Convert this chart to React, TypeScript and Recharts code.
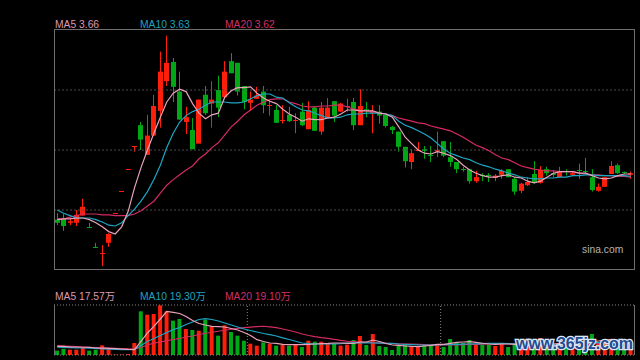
import { ComposedChart, Bar, Line, XAxis, YAxis, ReferenceLine, Cell } from "recharts";

// daily candles, price in yuan
const opens = [
  3.09, 3.10, 3.05, 3.05, 3.14, 3.00, 2.75, 2.66, 2.80, 3.17,
  3.45, 3.72, 4.01, 4.27, 3.90, 4.14, 4.45, 4.82, 5.06, 4.69,
  4.31, 4.21, 4.04, 4.65, 4.54, 4.71, 4.62, 5.07, 5.05, 4.76,
  4.55, 4.60, 4.69, 4.51, 4.46, 4.33, 4.40, 4.33, 4.44, 4.22,
  4.49, 4.19, 4.36, 4.57, 4.44, 4.50, 4.56, 4.27, 4.47, 4.43,
  4.44, 4.40, 4.25, 4.19, 4.00, 3.81, 3.95, 3.97, 3.90, 3.94,
  4.07, 3.87, 3.81, 3.72, 3.72, 3.57, 3.65, 3.65, 3.61, 3.65,
  3.72, 3.60, 3.45, 3.52, 3.66, 3.55, 3.72, 3.67, 3.62, 3.70,
  3.65, 3.71, 3.70, 3.62, 3.45, 3.50, 3.66, 3.77, 3.68, 3.65,
];
const highs = [
  3.17, 3.16, 3.11, 3.21, 3.35, 3.05, 2.80, 2.77, 2.92, 3.17,
  3.45, 3.72, 4.01, 4.31, 4.40, 4.65, 5.19, 5.39, 5.11, 4.94,
  4.50, 4.36, 4.59, 4.76, 4.82, 4.89, 5.07, 5.17, 5.05, 4.76,
  4.69, 4.75, 4.76, 4.59, 4.52, 4.52, 4.50, 4.42, 4.55, 4.57,
  4.51, 4.56, 4.61, 4.57, 4.55, 4.60, 4.61, 4.72, 4.56, 4.52,
  4.52, 4.40, 4.26, 4.19, 4.00, 3.97, 4.06, 4.01, 4.01, 4.19,
  4.07, 4.06, 3.81, 3.75, 3.72, 3.70, 3.67, 3.67, 3.66, 3.72,
  3.72, 3.62, 3.55, 3.62, 3.82, 3.76, 3.75, 3.71, 3.75, 3.72,
  3.69, 3.79, 3.86, 3.72, 3.54, 3.62, 3.82, 3.79, 3.69, 3.69,
];
const lows = [
  3.02, 2.95, 3.02, 3.01, 3.14, 2.99, 2.74, 2.51, 2.75, 3.17,
  3.45, 3.72, 3.94, 3.96, 3.90, 4.14, 4.24, 4.76, 4.56, 4.34,
  4.16, 3.97, 4.04, 4.40, 4.24, 4.37, 4.62, 4.92, 4.64, 4.47,
  4.45, 4.60, 4.42, 4.39, 4.30, 4.29, 4.31, 4.17, 4.26, 4.22,
  4.20, 4.15, 4.36, 4.31, 4.44, 4.44, 4.21, 4.27, 4.37, 4.17,
  4.29, 4.24, 4.16, 3.94, 3.74, 3.72, 3.95, 3.85, 3.81, 3.87,
  3.87, 3.75, 3.67, 3.69, 3.54, 3.55, 3.57, 3.56, 3.57, 3.60,
  3.62, 3.40, 3.42, 3.51, 3.54, 3.54, 3.64, 3.62, 3.62, 3.64,
  3.64, 3.60, 3.65, 3.44, 3.44, 3.50, 3.66, 3.66, 3.66, 3.60,
];
const closes = [
  3.05, 3.01, 3.07, 3.15, 3.25, 2.99, 2.74, 2.67, 2.91, 3.17,
  3.45, 3.72, 4.01, 4.09, 4.14, 4.51, 4.94, 5.05, 4.75, 4.34,
  4.37, 3.97, 4.59, 4.42, 4.59, 4.49, 4.94, 4.92, 4.69, 4.56,
  4.59, 4.64, 4.52, 4.52, 4.30, 4.34, 4.32, 4.34, 4.27, 4.46,
  4.20, 4.49, 4.49, 4.39, 4.54, 4.51, 4.27, 4.51, 4.45, 4.44,
  4.39, 4.26, 4.21, 4.00, 3.82, 3.92, 3.96, 3.95, 3.89, 3.96,
  3.89, 3.81, 3.72, 3.71, 3.57, 3.62, 3.64, 3.64, 3.64, 3.70,
  3.62, 3.44, 3.54, 3.56, 3.55, 3.71, 3.67, 3.65, 3.69, 3.69,
  3.67, 3.70, 3.69, 3.46, 3.50, 3.62, 3.76, 3.67, 3.67, 3.67,
];

const ma5 = [
  3.09, 3.10, 3.10, 3.11, 3.11, 3.09, 3.05, 3.00, 2.94, 2.91,
  3.00, 3.19, 3.49, 3.74, 3.96, 4.17, 4.37, 4.56, 4.67, 4.72,
  4.69, 4.54, 4.42, 4.35, 4.40, 4.42, 4.62, 4.70, 4.74, 4.74,
  4.75, 4.67, 4.61, 4.57, 4.54, 4.47, 4.41, 4.37, 4.32, 4.35,
  4.34, 4.34, 4.36, 4.37, 4.41, 4.46, 4.46, 4.45, 4.45, 4.45,
  4.42, 4.41, 4.37, 4.25, 4.12, 4.04, 3.96, 3.92, 3.91, 3.94,
  3.92, 3.89, 3.84, 3.77, 3.71, 3.67, 3.64, 3.62, 3.62, 3.64,
  3.65, 3.62, 3.61, 3.57, 3.55, 3.57, 3.62, 3.67, 3.69, 3.69,
  3.69, 3.67, 3.67, 3.64, 3.61, 3.60, 3.61, 3.64, 3.66, 3.66,
];
const ma10 = [
  3.21, 3.17, 3.14, 3.11, 3.11, 3.11, 3.09, 3.06, 3.02, 3.01,
  3.05, 3.14, 3.22, 3.32, 3.44, 3.59, 3.77, 3.99, 4.17, 4.31,
  4.39, 4.44, 4.47, 4.52, 4.56, 4.56, 4.56, 4.55, 4.55, 4.56,
  4.60, 4.64, 4.66, 4.66, 4.62, 4.61, 4.55, 4.50, 4.46, 4.45,
  4.42, 4.39, 4.36, 4.36, 4.37, 4.40, 4.41, 4.41, 4.42, 4.42,
  4.42, 4.41, 4.39, 4.32, 4.27, 4.24, 4.20, 4.16, 4.11, 4.04,
  3.97, 3.92, 3.89, 3.86, 3.84, 3.80, 3.77, 3.75, 3.72, 3.70,
  3.67, 3.65, 3.62, 3.61, 3.60, 3.60, 3.61, 3.61, 3.62, 3.62,
  3.64, 3.64, 3.65, 3.65, 3.64, 3.64, 3.64, 3.64, 3.64, 3.63,
];
const ma20 = [
  3.10, 3.10, 3.12, 3.14, 3.16, 3.16, 3.16, 3.15, 3.15, 3.14,
  3.14, 3.14, 3.16, 3.20, 3.26, 3.32, 3.42, 3.52, 3.59, 3.65,
  3.71, 3.76, 3.85, 3.91, 3.99, 4.05, 4.15, 4.25, 4.32, 4.40,
  4.46, 4.52, 4.56, 4.59, 4.60, 4.60, 4.56, 4.54, 4.51, 4.50,
  4.50, 4.51, 4.51, 4.52, 4.52, 4.50, 4.47, 4.46, 4.45, 4.44,
  4.42, 4.41, 4.39, 4.36, 4.34, 4.32, 4.30, 4.29, 4.26, 4.24,
  4.22, 4.20, 4.16, 4.12, 4.07, 4.02, 3.99, 3.95, 3.90, 3.86,
  3.84, 3.80, 3.76, 3.74, 3.72, 3.71, 3.70, 3.70, 3.69, 3.69,
  3.69, 3.67, 3.66, 3.65, 3.65, 3.64, 3.64, 3.63, 3.63, 3.62,
];

// volume in 万 (10k shares)
const vols = [
  6.5, 9.5, 8.0, 8.0, 11.5, 6.5, 8.0, 14.5, 9.5, 0.8,
  0.8, 1.4, 18.0, 65.5, 60.5, 61.5, 74.5, 65.5, 51.5, 54.0,
  39.0, 37.5, 36.5, 53.0, 43.0, 29.0, 44.5, 34.5, 29.0, 21.5,
  17.0, 14.0, 19.0, 17.0, 14.0, 15.5, 14.0, 15.5, 12.0, 21.5,
  20.0, 20.0, 18.0, 16.5, 14.0, 15.5, 22.5, 28.5, 15.0, 31.5,
  13.5, 12.0, 7.5, 13.5, 16.5, 12.0, 12.0, 15.0, 15.0, 16.5,
  12.0, 24.0, 19.5, 18.0, 22.5, 15.0, 15.0, 15.0, 13.5, 16.5,
  12.0, 15.0, 13.5, 12.0, 18.0, 25.5, 15.0, 12.0, 16.5, 12.0,
  13.5, 18.0, 24.0, 31.5, 18.0, 19.5, 24.0, 18.0, 12.0, 14.5,
];
const volMa5 = [
  13.0, 12.8, 12.0, 12.0, 11.6, 11.3, 10.5, 10.2, 9.8, 9.5,
  9.0, 8.3, 8.0, 20.6, 33.0, 43.0, 54.0, 65.5, 64.0, 62.3,
  57.8, 51.8, 47.3, 45.0, 43.0, 42.5, 42.0, 39.8, 37.5, 33.8,
  29.3, 23.0, 20.3, 18.0, 17.3, 16.0, 15.5, 15.5, 15.5, 15.8,
  16.5, 17.0, 17.3, 18.0, 18.0, 17.3, 17.3, 19.5, 19.5, 22.5,
  20.3, 17.3, 15.0, 14.3, 13.5, 12.8, 12.5, 13.5, 14.3, 15.8,
  16.0, 17.3, 18.8, 19.5, 20.0, 18.8, 17.6, 16.5, 15.8, 16.5,
  16.5, 16.0, 14.1, 13.8, 14.1, 16.8, 16.8, 16.5, 17.4, 16.2,
  13.8, 14.4, 16.8, 19.8, 21.0, 22.2, 23.4, 22.2, 18.3, 17.57,
];
const volMa10 = [
  11.6, 11.3, 11.1, 10.8, 10.5, 10.2, 9.8, 9.3, 8.7, 8.3,
  8.0, 8.0, 8.3, 14.3, 20.3, 24.8, 29.3, 33.8, 38.0, 41.3,
  45.8, 49.5, 53.3, 54.5, 53.3, 51.0, 48.0, 45.0, 42.0, 39.0,
  36.8, 34.5, 32.3, 30.5, 28.5, 25.8, 23.3, 20.6, 18.0, 17.0,
  16.5, 16.5, 16.5, 16.8, 17.0, 18.0, 18.3, 18.3, 18.3, 18.0,
  17.7, 17.6, 17.3, 16.5, 16.0, 15.5, 15.0, 15.0, 15.0, 15.3,
  15.6, 15.9, 16.0, 16.2, 16.5, 16.8, 17.1, 17.3, 17.4, 17.6,
  17.2, 16.6, 16.0, 15.4, 15.0, 15.6, 15.6, 15.3, 15.6, 15.2,
  15.3, 15.6, 16.7, 18.6, 18.6, 18.0, 18.9, 19.5, 19.1, 19.30,
];
const volMa20 = [
  14.0, 13.5, 12.9, 12.5, 12.0, 11.6, 11.1, 10.7, 10.2, 9.8,
  9.5, 9.2, 9.0, 11.3, 15.0, 17.7, 19.5, 21.5, 23.3, 24.8,
  27.0, 28.5, 30.8, 32.6, 34.1, 35.6, 37.1, 38.6, 39.8, 41.0,
  41.7, 42.6, 43.1, 42.3, 41.0, 39.0, 36.8, 34.5, 31.5, 29.3,
  27.5, 26.0, 24.8, 23.3, 21.8, 20.6, 20.0, 19.5, 19.1, 18.5,
  18.0, 17.6, 17.1, 16.8, 16.5, 16.2, 15.9, 15.6, 15.3, 15.0,
  15.0, 15.2, 15.3, 15.5, 15.8, 16.0, 16.4, 16.5, 16.7, 16.8,
  17.0, 17.1, 17.0, 16.8, 16.5, 16.3, 16.0, 15.8, 15.8, 15.6,
  15.5, 15.6, 16.0, 16.8, 17.2, 17.5, 18.0, 18.5, 18.8, 19.10,
];

// first trading day of a new month (1-based day index)
const monthStarts = [31, 61];
const priceGrid = [3.21, 3.96, 4.71];

const RED = "#ff1e0a";
const GREEN = "#00a815";
const C5 = "#e8a2b9";
const C10 = "#1ea6c4";
const C20 = "#d42b62";
const FONT = "'Liberation Sans', Arial, 'Noto Sans CJK SC', sans-serif";

const rows = opens.map((o, i) => ({
  day: i + 1,
  open: o,
  high: highs[i],
  low: lows[i],
  close: closes[i],
  ma5: ma5[i],
  ma10: ma10[i],
  ma20: ma20[i],
  vol: vols[i],
  vma5: volMa5[i],
  vma10: volMa10[i],
  vma20: volMa20[i],
}));

const isUp = (d: { open: number; close: number }) => d.close >= d.open;

function Candle(props: any) {
  const { x, y, width, height, payload } = props;
  if (payload == null || x == null) return null;
  const color = isUp(payload) ? RED : GREEN;
  const top = Math.min(y, y + (height || 0));
  const bot = Math.max(y, y + (height || 0));
  const span = payload.high - payload.low;
  const pix = (v: number) =>
    span > 0 ? top + ((payload.high - v) / span) * (bot - top) : top;
  const cx = Math.floor(x + width / 2);
  const bTop = pix(Math.max(payload.open, payload.close));
  const bBot = pix(Math.min(payload.open, payload.close));
  const bh = Math.max(1, bBot - bTop);
  return (
    <g>
      {bot - top > 0.5 && (
        <line x1={cx + 0.5} x2={cx + 0.5} y1={top} y2={bot} stroke={color} strokeWidth={1} />
      )}
      <rect x={cx - 2} y={bh <= 1 ? Math.round(bTop) : bTop} width={5} height={bh} fill={color} />
    </g>
  );
}

const last = rows.length - 1;

export default function App() {
  return (
    <div
      style={{
        position: "fixed",
        left: 0,
        top: 0,
        width: 640,
        height: 360,
        background: "#000",
        overflow: "hidden",
      }}
    >
      <div style={{ position: "absolute", left: 0, top: 0 }}>
        <ComposedChart
          width={640}
          height={275}
          data={rows}
          margin={{ top: 30, right: 6, bottom: 5, left: 54 }}
        >
          <XAxis dataKey="day" hide />
          <YAxis hide domain={[2.46, 5.46]} allowDataOverflow />
          {priceGrid.map((p) => (
            <ReferenceLine key={p} y={p} stroke="#4d4d4d" strokeDasharray="2 2" />
          ))}
          <Bar
            dataKey={(d: any) => [d.low, d.high]}
            shape={<Candle />}
            isAnimationActive={false}
          />
          <Line type="linear" dataKey="ma20" stroke={C20} strokeWidth={1.2} dot={false} isAnimationActive={false} />
          <Line type="linear" dataKey="ma10" stroke={C10} strokeWidth={1.2} dot={false} isAnimationActive={false} />
          <Line type="linear" dataKey="ma5" stroke={C5} strokeWidth={1.2} dot={false} isAnimationActive={false} />
        </ComposedChart>
      </div>

      <div style={{ position: "absolute", left: 0, top: 280 }}>
        <ComposedChart
          width={640}
          height={80}
          data={rows}
          margin={{ top: 25, right: 6, bottom: 5, left: 54 }}
        >
          <XAxis dataKey="day" hide />
          <YAxis hide domain={[0, 75]} allowDataOverflow />
          <ReferenceLine y={75} stroke="#8a8a8a" strokeDasharray="1 2" />
          <ReferenceLine y={0} stroke="#8a8a8a" strokeDasharray="1 2" />
          {monthStarts.map((m) => (
            <ReferenceLine key={m} x={m} position="start" stroke="#8a8a8a" strokeDasharray="1 2" />
          ))}
          <Bar dataKey="vol" barSize={4} isAnimationActive={false}>
            {rows.map((d) => (
              <Cell key={d.day} fill={isUp(d) ? RED : GREEN} />
            ))}
          </Bar>
          <Line type="linear" dataKey="vma20" stroke={C20} strokeWidth={1.2} dot={false} isAnimationActive={false} />
          <Line type="linear" dataKey="vma10" stroke={C10} strokeWidth={1.2} dot={false} isAnimationActive={false} />
          <Line type="linear" dataKey="vma5" stroke={C5} strokeWidth={1.2} dot={false} isAnimationActive={false} />
        </ComposedChart>
      </div>

      <svg
        width={640}
        height={360}
        style={{ position: "absolute", left: 0, top: 0, pointerEvents: "none" }}
        fontFamily={FONT}
      >
        <rect x={54.5} y={29.5} width={580} height={240} fill="none" stroke="#6e6e6e" />
        <line x1={54.5} x2={54.5} y1={305} y2={355} stroke="#6e6e6e" />
        <line x1={634.5} x2={634.5} y1={305} y2={355} stroke="#6e6e6e" />

        <text x={55} y={27.5} fontSize={10.3} fill="#dc9ab2">MA5 {ma5[last].toFixed(2)}</text>
        <text x={140} y={27.5} fontSize={10.3} fill="#22a0bd">MA10 {ma10[last].toFixed(2)}</text>
        <text x={225} y={27.5} fontSize={10.3} fill="#d0306a">MA20 {ma20[last].toFixed(2)}</text>

        <text x={55} y={299.5} fontSize={10.3} fill="#dc9ab2">MA5 {volMa5[last].toFixed(2)}万</text>
        <text x={140} y={299.5} fontSize={10.3} fill="#22a0bd">MA10 {volMa10[last].toFixed(2)}万</text>
        <text x={225} y={299.5} fontSize={10.3} fill="#d0306a">MA20 {volMa20[last].toFixed(2)}万</text>

        <text x={582} y={253} fontSize={10.3} fill="#b4b4b4">sina.com</text>

        <text
          x={516}
          y={349}
          fontSize={16}
          fontWeight="bold"
          fill="#234a8f"
          stroke="#dde6f4"
          strokeWidth={2.5}
          paintOrder="stroke"
          textLength={117}
        >
          www.365jz.com
        </text>
      </svg>
    </div>
  );
}
